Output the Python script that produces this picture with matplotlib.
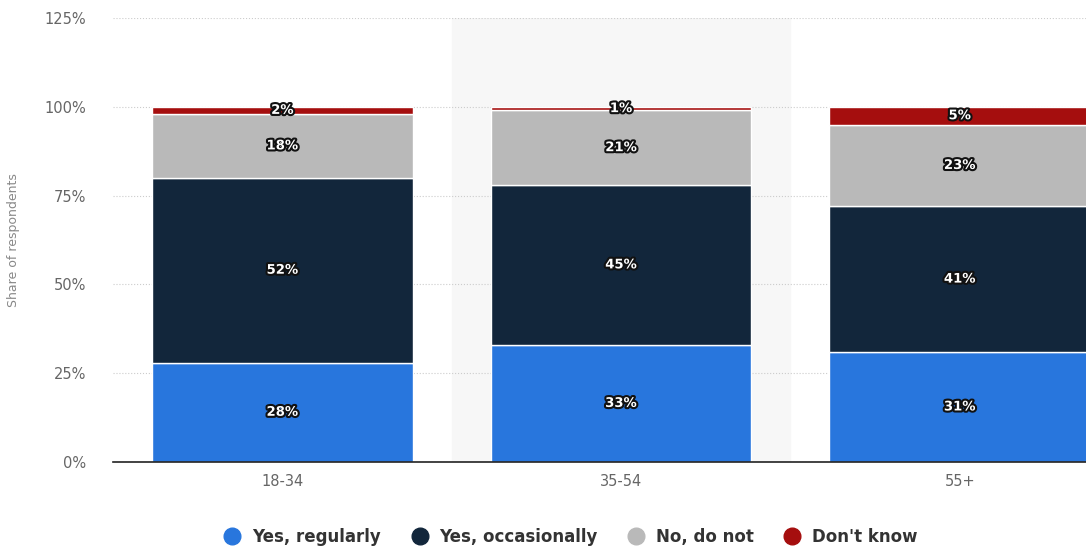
import matplotlib.pyplot as plt
import matplotlib.patheffects as pe
from matplotlib.lines import Line2D
import numpy as np

plt.rcParams['font.family'] = ['DejaVu Sans']

# data
age_groups = ['18-34', '35-54', '55+']
series_names = ['Yes, regularly', 'Yes, occasionally', 'No, do not', "Don't know"]
yes_regularly = [28, 33, 31]
yes_occasionally = [52, 45, 41]
no_do_not = [18, 21, 23]
dont_know = [2, 1, 5]
y_ticks = [0, 25, 50, 75, 100, 125]

colors = ['#2876dd', '#12263b', '#b9b9b9', '#a50e0e']
series = [yes_regularly, yes_occasionally, no_do_not, dont_know]

fig = plt.figure(figsize=(10.86, 5.47), dpi=100)
ax = fig.add_axes([0.104, 0.1554, 0.896, 0.8116])

x = np.arange(len(age_groups))
# light band behind middle group
ax.axvspan(0.5, 1.5, color='#f7f7f7', zorder=0)

bottom = np.zeros(len(age_groups))
for vals, col in zip(series, colors):
    ax.bar(x, vals, 0.77, bottom=bottom, color=col, edgecolor='white', linewidth=1, zorder=2)
    for xi, b, v in zip(x, bottom, vals):
        ax.text(xi, b + v / 2, f'{v}%', ha='center', va='center', color='white',
                fontsize=9.5, fontweight='bold', zorder=4,
                path_effects=[pe.withStroke(linewidth=3, foreground='#111111')])
    bottom += np.array(vals)

ax.set_ylim(0, 125)
ax.set_xlim(-0.5, 2.373)
ax.set_yticks(y_ticks)
ax.set_yticklabels([f'{t}%' for t in y_ticks], color='#666666', fontsize=10.5)
ax.set_xticks(x)
ax.set_xticklabels(age_groups, color='#666666', fontsize=10.5)
ax.tick_params(axis='x', length=0, pad=9)
ax.tick_params(axis='y', length=0, pad=19)
ax.grid(axis='y', linestyle=':', color='#cccccc', linewidth=0.8, zorder=1)
ax.set_axisbelow(True)
for s in ['top', 'right', 'left']:
    ax.spines[s].set_visible(False)
ax.spines['bottom'].set_color('#222222')
ax.spines['bottom'].set_linewidth(1.2)
ax.spines['bottom'].set_zorder(5)
ax.set_ylabel('Share of respondents', color='#888888', fontsize=9)
ax.yaxis.set_label_coords(-0.096, 0.5)

handles = [Line2D([0], [0], marker='o', linestyle='', markersize=12,
                  markerfacecolor=c, markeredgecolor=c) for c in colors]
fig.legend(handles, series_names, loc='center', bbox_to_anchor=(0.522, 0.018),
           ncol=4, frameon=False, handletextpad=0.2, columnspacing=1.3,
           prop={'weight': 'bold', 'size': 12})
for t in fig.legends[0].get_texts():
    t.set_color('#333333')

plt.savefig('out.png', dpi=100)
